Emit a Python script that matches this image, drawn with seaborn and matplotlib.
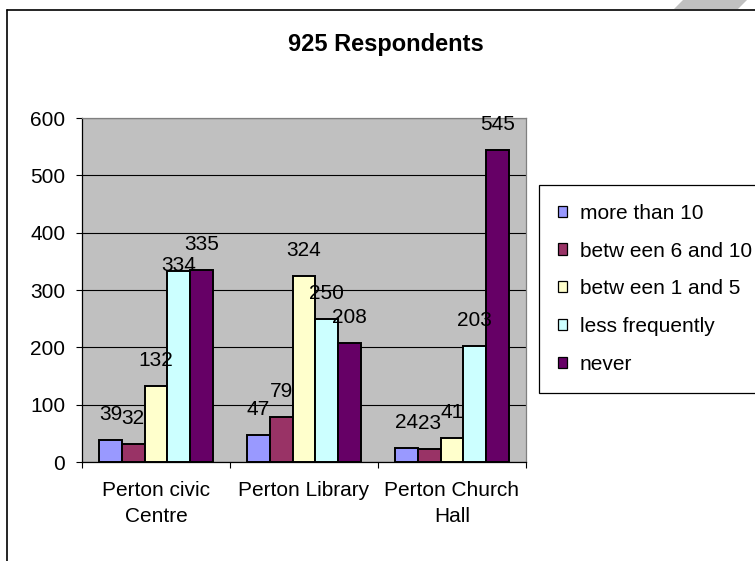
import matplotlib
matplotlib.use("Agg")
import matplotlib.pyplot as plt
from matplotlib.patches import Patch, Polygon
from matplotlib.lines import Line2D
import pandas as pd
import seaborn as sns

# data
locations = ['Perton civic\nCentre', 'Perton Library', 'Perton Church\nHall']
frequencies = ['more than 10', 'betw een 6 and 10', 'betw een 1 and 5',
               'less frequently', 'never']
more_than_10 = [39, 47, 24]
between_6_and_10 = [32, 79, 23]
between_1_and_5 = [132, 324, 41]
less_frequently = [334, 250, 203]
never = [335, 208, 545]
y_ticks = [0, 100, 200, 300, 400, 500, 600]
title = '925 Respondents'

series = [more_than_10, between_6_and_10, between_1_and_5, less_frequently, never]
rows = []
for freq, vals in zip(frequencies, series):
    for loc, v in zip(locations, vals):
        rows.append({'location': loc, 'frequency': freq, 'count': v})
df = pd.DataFrame(rows)

colors = ['#9999FF', '#993366', '#FFFFCC', '#CCFFFF', '#660066']

sns.set_style("white")
plt.rcParams['font.family'] = ['Liberation Sans', 'DejaVu Sans']
plt.rcParams['text.color'] = 'black'
plt.rcParams['xtick.color'] = 'black'
plt.rcParams['ytick.color'] = 'black'
plt.rcParams['axes.labelcolor'] = 'black'

W, H = 755, 561
fig = plt.figure(figsize=(W / 100, H / 100), dpi=100)
ax = fig.add_axes([82 / W, 1 - 462 / H, (526 - 82) / W, (462 - 118) / H])

sns.barplot(data=df, x='location', y='count', hue='frequency',
            order=locations, hue_order=frequencies, palette=colors,
            saturation=1, width=5 / 6.5, edgecolor='black', linewidth=1.4,
            legend=False, ax=ax, zorder=3)

ax.set_facecolor('#C0C0C0')
ax.set_xlim(-0.5, 2.5)
ax.set_ylim(0, 600)
ax.set_yticks(y_ticks)
ax.yaxis.grid(True, color='black', linewidth=0.8)
ax.set_axisbelow(True)
ax.set_xlabel('')
ax.set_ylabel('')

ax.tick_params(axis='y', which='major', labelsize=15, length=4, width=0.8,
               pad=8, left=True, color='black', labelcolor='black')
ax.set_xticks(range(len(locations)))
ax.set_xticklabels(locations, fontsize=15, linespacing=1.45, color='black')
ax.set_xticks([-0.5, 0.5, 1.5, 2.5], minor=True)
ax.tick_params(axis='x', which='major', length=0, pad=14)
ax.tick_params(axis='x', which='minor', length=4, width=0.8, bottom=True,
               color='black')

for side in ['left', 'bottom']:
    ax.spines[side].set_color('black')
    ax.spines[side].set_linewidth(0.9)
for side in ['top', 'right']:
    ax.spines[side].set_color('#808080')
    ax.spines[side].set_linewidth(0.9)

# value labels above bars (one label sits right on its bar in the original)
label_lift = 14.4
lift_override = {(3, 0): 0}
for si, cont in enumerate(ax.containers):
    for ci, bar in enumerate(cont):
        h = bar.get_height()
        lift = lift_override.get((si, ci), label_lift)
        ax.annotate(f'{int(h)}', (bar.get_x() + bar.get_width() / 2, h),
                    xytext=(0, lift), textcoords='offset points',
                    ha='center', va='baseline', fontsize=15, color='black',
                    annotation_clip=False, zorder=5)

fig.text(386 / W, 1 - 51 / H, title, ha='center', va='baseline',
         fontsize=17, fontweight='bold', color='black')

handles = [Patch(facecolor=c, edgecolor='black', linewidth=0.9) for c in colors]
leg = fig.legend(handles, frequencies, loc='upper left',
                 bbox_to_anchor=(539 / W, 1 - 185 / H),
                 bbox_transform=fig.transFigure, fontsize=15,
                 frameon=True, fancybox=False, framealpha=1,
                 edgecolor='black', borderaxespad=0, borderpad=0.9,
                 labelspacing=0.9, handlelength=0.45, handleheight=0.45,
                 handletextpad=0.6)
leg.get_frame().set_linewidth(0.9)
for t in leg.get_texts():
    t.set_color('black')

# chart area border and corner decoration
fig.add_artist(Line2D([6.5 / W, 6.5 / W], [0, 1 - 9.5 / H], color='black',
                      linewidth=1.2, transform=fig.transFigure))
fig.add_artist(Line2D([6.5 / W, 1], [1 - 9.5 / H, 1 - 9.5 / H],
                      color='black', linewidth=1.2, transform=fig.transFigure))
corner = [(674, 9), (738, 9), (747, 0), (683, 0)]
fig.add_artist(Polygon([(x / W, 1 - y / H) for x, y in corner], closed=True,
                       facecolor='#C0C0C0', edgecolor='none',
                       transform=fig.transFigure))

fig.savefig('out.png', dpi=100)
